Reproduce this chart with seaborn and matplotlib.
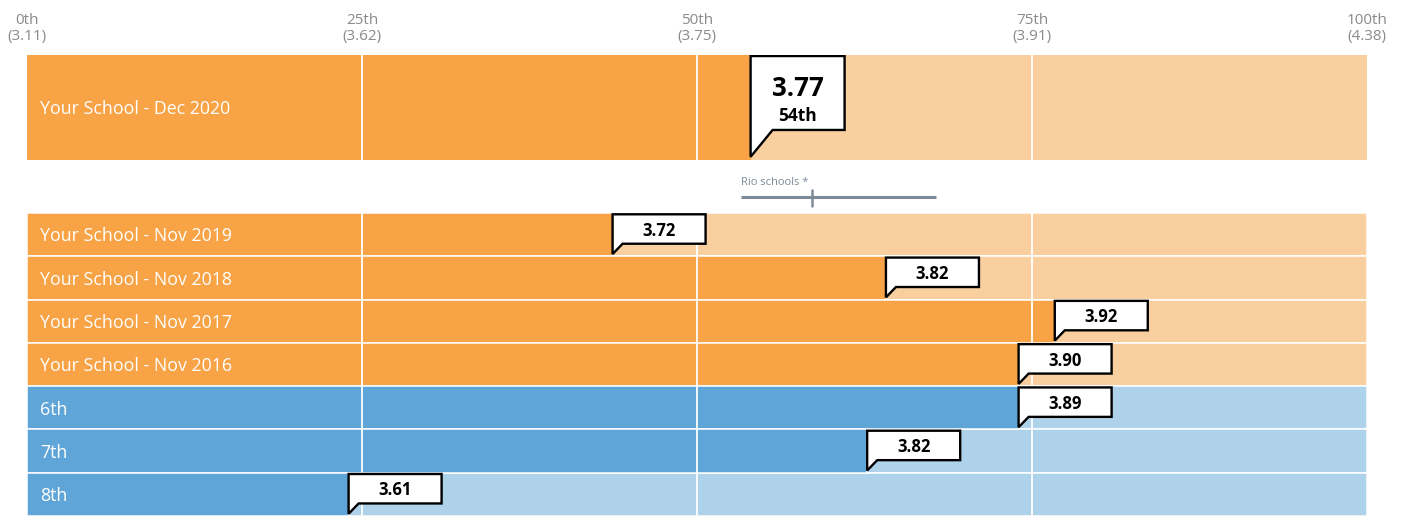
import pandas as pd
import matplotlib.pyplot as plt
from matplotlib.patches import Polygon
import seaborn as sns

# Percentile scale shown across the top
tick_pcts = [0, 25, 50, 75, 100]
tick_scores = ["3.11", "3.62", "3.75", "3.91", "4.38"]

# Current result (big row)
current_label = "Your School - Dec 2020"
current_pct = 54.0
current_score = "3.77"
current_rank = "54th"

# History and grade rows
row_labels = ["Your School - Nov 2019", "Your School - Nov 2018", "Your School - Nov 2017",
              "Your School - Nov 2016", "6th", "7th", "8th"]
row_pcts = [43.7, 64.1, 76.7, 74.0, 74.0, 62.7, 24.0]
row_scores = ["3.72", "3.82", "3.92", "3.90", "3.89", "3.82", "3.61"]
row_groups = ["school", "school", "school", "school", "grade", "grade", "grade"]

# Rio schools range marker (percentiles)
rio_low, rio_mid, rio_high = 53.3, 58.6, 67.8

dark = {"school": "#F7A346", "grade": "#60A5D8"}
light = {"school": "#F9CFA0", "grade": "#AED2EA"}

sns.set_style("white")
plt.rcParams["font.family"] = ["Open Sans", "DejaVu Sans"]

W, H = 1405, 516
fig = plt.figure(figsize=(W / 100, H / 100), dpi=100)
xlim = (-27 / 13.4, (W - 27) / 13.4)


def callout(ax, x, w, top, bottom, tip, tail_w):
    pts = [(x, top), (x + w, top), (x + w, bottom), (x + tail_w, bottom), (x, tip)]
    ax.add_patch(Polygon(pts, closed=True, facecolor="white", edgecolor="black",
                         linewidth=1.7, zorder=5, joinstyle="miter"))


# ---- top big row
ax_top = fig.add_axes([0, 1 - 160 / H, 1, 105 / H])
top_df = pd.DataFrame({"label": [current_label], "pct": [current_pct], "full": [100]})
sns.barplot(data=top_df, x="full", y="label", color=light["school"], width=1,
            saturation=1, ax=ax_top, linewidth=0)
sns.barplot(data=top_df, x="pct", y="label", color=dark["school"], width=1,
            saturation=1, ax=ax_top, linewidth=0)
ax_top.set_xlim(xlim)
ax_top.set_ylim(0.5, -0.5)
for p in tick_pcts[1:-1]:
    ax_top.axvline(p, color="white", lw=1.3, zorder=3)
ax_top.text(0.97, 0.01, current_label, color="white", fontsize=12.8, va="center", zorder=4)
callout(ax_top, current_pct, 94 / 13.4, -0.49, 0.214, 0.47, 22 / 13.4)
ax_top.text(current_pct + 47 / 13.4, -0.18, current_score, fontsize=18.5, fontweight="bold",
            color="black", ha="center", va="center", zorder=6)
ax_top.text(current_pct + 47 / 13.4, 0.08, current_rank, fontsize=12.5, fontweight="bold",
            color="black", ha="center", va="center", zorder=6)
ax_top.xaxis.tick_top()
ax_top.set_xticks(tick_pcts)
ax_top.set_xticklabels([f"{p}th\n({s})" for p, s in zip(tick_pcts, tick_scores)],
                       color="#8a8a8a", fontsize=11, linespacing=1.1)
ax_top.tick_params(axis="x", length=0, pad=8)
ax_top.set_yticks([])
ax_top.set_xlabel("")
ax_top.set_ylabel("")
for s in ax_top.spines.values():
    s.set_visible(False)

# ---- Rio schools marker
ax_mid = fig.add_axes([0, 1 - 213 / H, 1, 53 / H])
ax_mid.set_xlim(xlim)
ax_mid.set_ylim(0, 1)
ax_mid.axis("off")
ax_mid.plot([rio_low, rio_high], [0.3, 0.3], color="#7D8A98", lw=2.2, solid_capstyle="butt")
ax_mid.plot([rio_mid, rio_mid], [0.13, 0.44], color="#7D8A98", lw=1.8)
ax_mid.text(rio_low, 0.57, "Rio schools *", color="#7D8A98", fontsize=8, va="center")

# ---- history / grade rows
ax = fig.add_axes([0, 0, 1, 303 / H])
df = pd.DataFrame({"label": row_labels, "pct": row_pcts, "group": row_groups, "full": 100})
sns.barplot(data=df, x="full", y="label", hue="label", width=1, saturation=1, ax=ax,
            palette={l: light[g] for l, g in zip(row_labels, row_groups)},
            edgecolor="white", linewidth=1.1, legend=False)
sns.barplot(data=df, x="pct", y="label", hue="label", width=1, saturation=1, ax=ax,
            palette={l: dark[g] for l, g in zip(row_labels, row_groups)},
            edgecolor="white", linewidth=1.1, legend=False)
ax.set_xlim(xlim)
ax.set_ylim(len(row_labels) - 0.5, -0.5)
for p in tick_pcts[1:-1]:
    ax.axvline(p, color="white", lw=1.3, zorder=3)
for i, (lab, pct, sc) in enumerate(zip(row_labels, row_pcts, row_scores)):
    ax.text(0.97, i + 0.04, lab, color="white", fontsize=12.8, va="center", zorder=4)
    callout(ax, pct, 93 / 13.4, i - 0.47, i + 0.21, i + 0.45, 10 / 13.4)
    ax.text(pct + 46.5 / 13.4, i - 0.09, sc, fontsize=12, fontweight="bold",
            color="black", ha="center", va="center", zorder=6)
ax.set_xticks([])
ax.set_yticks([])
ax.set_xlabel("")
ax.set_ylabel("")
for s in ax.spines.values():
    s.set_visible(False)

fig.savefig("out.png", dpi=100, facecolor="white")
